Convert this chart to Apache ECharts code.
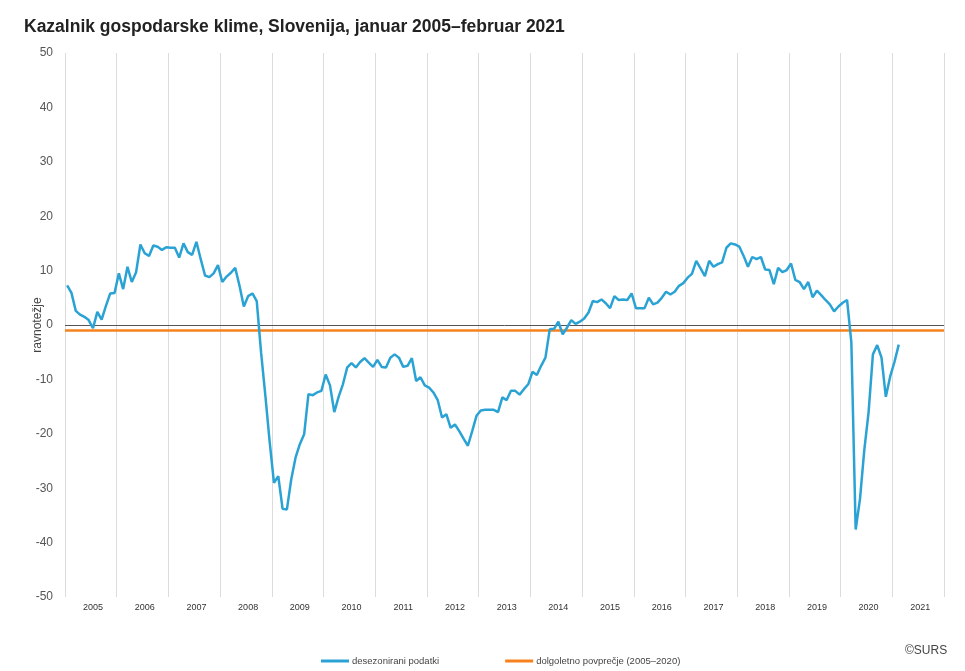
<!DOCTYPE html>
<html>
<head>
<meta charset="utf-8">
<script src="https://cdn.jsdelivr.net/npm/echarts@6/dist/echarts.min.js"></script>
<style>
html,body{margin:0;padding:0;background:#fff;}
#c{width:965px;height:671px;}
</style>
</head>
<body>
<div id="c"></div>
<script>
// Monthly values, January 2005 – February 2021
var years = [2005,2006,2007,2008,2009,2010,2011,2012,2013,2014,2015,2016,2017,2018,2019,2020,2021];
var v2005 = [7.3, 5.9, 2.6, 1.9, 1.5, 0.9, -0.6, 2.4, 1.0, 3.5, 5.8, 5.9];
var v2006 = [9.5, 6.6, 10.7, 7.9, 9.7, 14.8, 13.2, 12.7, 14.6, 14.4, 13.8, 14.3];
var v2007 = [14.2, 14.2, 12.4, 15.0, 13.4, 12.9, 15.3, 12.1, 9.1, 8.8, 9.5, 11.0];
var v2008 = [7.9, 8.9, 9.6, 10.5, 7.2, 3.4, 5.3, 5.8, 4.4, -5.0, -13.0, -21.5];
var v2009 = [-29.0, -27.8, -33.8, -33.9, -28.4, -24.4, -21.9, -20.1, -12.7, -12.9, -12.4, -12.1];
var v2010 = [-9.1, -11.1, -16.0, -13.2, -10.9, -7.8, -7.0, -7.8, -6.8, -6.1, -6.9, -7.7];
var v2011 = [-6.4, -7.7, -7.8, -6.0, -5.4, -6.0, -7.7, -7.5, -6.1, -10.3, -9.6, -11.1];
var v2012 = [-11.5, -12.4, -13.8, -17.0, -16.4, -18.9, -18.3, -19.5, -20.9, -22.2, -19.5, -16.7];
var v2013 = [-15.7, -15.6, -15.6, -15.6, -16.0, -13.3, -13.8, -12.1, -12.1, -12.8, -11.8, -10.9];
var v2014 = [-8.6, -9.2, -7.5, -6.0, -0.8, -0.7, 0.6, -1.7, -0.5, 0.9, 0.2, 0.6];
var v2015 = [1.2, 2.3, 4.4, 4.2, 4.7, 4.0, 3.1, 5.3, 4.6, 4.7, 4.6, 5.8];
var v2016 = [3.1, 3.1, 3.1, 5.0, 3.8, 4.1, 5.0, 6.1, 5.6, 6.1, 7.2, 7.7];
var v2017 = [8.7, 9.4, 11.8, 10.4, 9.0, 11.8, 10.7, 11.2, 11.5, 14.2, 15.0, 14.8];
var v2018 = [14.4, 12.7, 10.7, 12.5, 12.1, 12.5, 10.2, 10.1, 7.5, 10.5, 9.7, 10.1];
var v2019 = [11.3, 8.3, 7.9, 6.6, 7.9, 5.1, 6.3, 5.5, 4.6, 3.8, 2.5, 3.4];
var v2020 = [4.1, 4.6, -3.2, -37.6, -32.0, -23.0, -16.0, -5.4, -3.7, -6.0, -13.2, -9.5];
var v2021 = [-6.8, -3.6];
var longTermAverage = -1.0;
var yTicks = {min: -50, max: 50, step: 10};
var seriesNames = ['desezonirani podatki', 'dolgoletno povprečje (2005–2020)'];

var seasonallyAdjusted = [].concat(v2005, v2006, v2007, v2008, v2009, v2010, v2011, v2012,
  v2013, v2014, v2015, v2016, v2017, v2018, v2019, v2020, v2021);

var categories = [];
years.forEach(function (y) {
  for (var m = 1; m <= 12; m++) categories.push(y + '-' + (m < 10 ? '0' + m : m));
});

var chart = echarts.init(document.getElementById('c'));
chart.setOption({
  animation: false,
  backgroundColor: '#fff',
  title: {
    text: 'Kazalnik gospodarske klime, Slovenija, januar 2005–februar 2021',
    left: 19, top: 13,
    textStyle: {fontFamily: 'Liberation Sans', fontSize: 17.5, fontWeight: 'bold', color: '#222'}
  },
  grid: {left: 65, right: 21, top: 53, bottom: 74},
  legend: {
    left: 316, top: 651,
    itemWidth: 28, itemHeight: 3, itemGap: 66,
    icon: 'rect',
    textStyle: {fontFamily: 'Liberation Sans Narrow, Liberation Sans', fontSize: 9.5, color: '#444', padding: [0, 0, 0, -2]},
    data: seriesNames
  },
  graphic: [{
    type: 'text', left: 905, top: 645,
    style: {text: '©SURS', fontFamily: 'Liberation Sans', fontSize: 12, fill: '#444'}
  }],
  xAxis: {
    type: 'category',
    data: categories,
    boundaryGap: true,
    axisLine: {show: false},
    axisTick: {show: false},
    axisLabel: {
      interval: function (i) { return i % 12 === 6; },
      formatter: function (v) { return v.slice(0, 4); },
      fontFamily: 'Liberation Sans Narrow, Liberation Sans',
      fontSize: 9, color: '#333', margin: 6
    },
    splitLine: {
      show: true,
      interval: function (i) { return i % 12 === 0; },
      lineStyle: {color: '#dcdcdc', width: 1}
    }
  },
  yAxis: {
    type: 'value',
    min: yTicks.min, max: yTicks.max, interval: yTicks.step,
    name: 'ravnotežje',
    nameLocation: 'middle', nameGap: 21, nameRotate: 90,
    nameMoveOverlap: false,
    nameTextStyle: {fontFamily: 'Liberation Sans', fontSize: 12, color: '#444'},
    axisLine: {show: false},
    axisTick: {show: false},
    splitLine: {show: false},
    axisLabel: {fontFamily: 'Liberation Sans', fontSize: 12, color: '#555', margin: 12}
  },
  series: [
    {
      name: seriesNames[0],
      type: 'line',
      data: seasonallyAdjusted,
      showSymbol: false,
      symbol: 'none',
      z: 5,
      itemStyle: {color: '#2aa3d4'},
      lineStyle: {color: '#2aa3d4', width: 2.5},
      markLine: {
        silent: true, symbol: 'none', label: {show: false},
        lineStyle: {color: '#555', width: 1, type: 'solid'},
        data: [{yAxis: 0}]
      }
    },
    {
      name: seriesNames[1],
      type: 'line',
      data: [],
      z: 3,
      itemStyle: {color: '#f5821f'},
      lineStyle: {color: '#f5821f', width: 2.5},
      markLine: {
        silent: true, symbol: 'none', label: {show: false},
        lineStyle: {color: '#f5821f', width: 2.5, type: 'solid'},
        data: [{yAxis: longTermAverage}]
      }
    }
  ]
});
</script>
</body>
</html>
